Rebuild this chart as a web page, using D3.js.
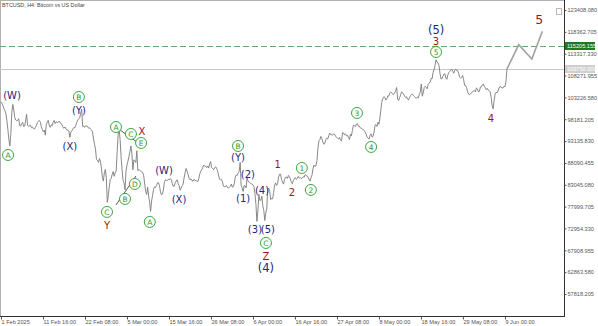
<!DOCTYPE html>
<html>
<head>
<meta charset="utf-8">
<script src="https://cdn.jsdelivr.net/npm/d3@7"></script>
<style>
  body { margin: 0; background: #fff; }
  svg { display: block; font-family: "Liberation Sans", Arial, sans-serif; }
</style>
</head>
<body>
<svg id="chart" width="598" height="326"></svg>
<script>
// BTCUSD closes, sampled every 6 hours from 1 Feb 2025 00:00 (one row per 5 days)
const startTime = Date.UTC(2025, 1, 1);
const stepHours = 6;
const closes = [
  // Feb
  102200, 101800, 101300, 100600, 100200, 99500, 97800, 95800, 93500, 92000, 94800, 99800,
  101600, 100300, 98600, 98000, 97800, 97900, 98300, 96700,
  96600, 97200, 97500, 96500, 96600, 97800, 99300, 96800, 96500, 96700, 96800, 96200,
  96400, 96000, 95900, 96300, 96800, 97400, 97700, 97900,
  97500, 96400, 95800, 95300, 95700, 94500, 96900, 97500, 97900, 96800, 96300, 96900,
  96700, 97500, 97900, 97200, 97600, 97400, 97500, 97700,
  97500, 97100, 96900, 96300, 96100, 96400, 95900, 95700, 95700, 95400, 94000, 95200,
  95500, 95900, 96300, 96200, 96700, 97500, 98000, 98300,
  98500, 99600, 100500, 96500, 96600, 96300, 96700, 96600, 96500, 96100, 96200, 95900,
  95700, 95300, 93600, 92400, 91300, 88900, 88700, 88200,
  89100, 88500, 86900, 84800, 83900, 85800, 86600, 84700, 79000, 80500, 82600, 84300,
  // Mar
  84500, 85500, 86100, 85000, 85800, 86200, 90600, 94500, 96000, 93500, 89500, 86500,
  84100, 83500, 81900, 86200, 87600, 88500, 89600, 90700,
  92000, 90200, 86500, 88800, 88600, 88200, 90900, 86300, 86500, 86400, 86200, 86000,
  85900, 85100, 83200, 81500, 80800, 82500, 80400, 79000,
  76900, 79300, 80600, 82000, 82600, 82400, 82900, 83500, 83500, 82900, 81400, 80700,
  80900, 81800, 83600, 84200, 84100, 84000, 84300, 84200,
  84500, 84200, 83400, 82700, 82700, 83500, 83900, 84200, 83300, 82900, 81800, 82300,
  82800, 83200, 84600, 85800, 86800, 86200, 85500, 84600,
  84200, 84400, 84000, 83900, 84300, 84100, 84000, 83900, 83800, 84500, 85600, 86200,
  86500, 87100, 87600, 87300, 87300, 87000, 87400, 86900,
  87900, 88400, 87000, 86800, 86500, 86900, 87200, 86900, 86300, 85300, 84300, 84200,
  84300, 83700, 82700, 82600, 82600, 82900, 82400, 82300,
  82400, 82700, 83200, 82500,
  // Apr
  82600, 83300, 84800, 85300, 85200, 85800, 86200, 88200, 82800, 82400, 81500, 82900,
  82800, 82300, 84600, 83900, 83700, 83500, 83300, 83200,
  83000, 82700, 81000, 78500, 74600, 77000, 80800, 79400, 79500, 80400, 78200, 77100,
  74800, 76500, 77500, 82000, 82300, 81500, 79600, 79900,
  79800, 81300, 83000, 83500, 82900, 83300, 84800, 85500, 85500, 84300, 83600, 83200,
  84200, 84800, 84800, 84500, 85200, 84900, 84400, 83600,
  83300, 84000, 84400, 84700, 84300, 84500, 85000, 84600, 84700, 84500, 84600, 84900,
  84800, 85400, 85200, 85100, 84800, 84300, 83900, 84700,
  85300, 86800, 87600, 87300, 87400, 88600, 91500, 93200, 93500, 94200, 93700, 92900,
  92400, 92600, 93500, 93800, 93600, 94400, 95000, 94600,
  94600, 94500, 94800, 94700, 94200, 94000, 93800, 93600, 94000, 93300, 93200, 95100,
  95000, 94600, 94800, 94300, 94500, 94000, 93500, 94700,
  // May
  94300, 95600, 96800, 96700, 96500, 97000, 97200, 96600, 96600, 96200, 96100, 95900,
  95800, 95600, 95200, 94700, 94000, 93800, 93600, 94500,
  94800, 94100, 94200, 95200, 96800, 96900, 96500, 97500, 97000, 98500, 100500, 102300,
  103000, 103400, 103200, 102600, 102900, 103600, 103500, 104300,
  104500, 104200, 104000, 103900, 104300, 104800, 105500, 102800, 102500, 103200, 103800, 104500,
  104300, 104000, 103500, 103200, 103400, 102800, 102600, 103200,
  103600, 103900, 104000, 103700, 103400, 103200, 103000, 103300, 103100, 103900, 104500, 106300,
  103500, 104300, 105500, 105800, 105600, 105200, 106200, 106500,
  106800, 107600, 107500, 109000, 109700, 110600, 111900, 111300, 111200, 110600, 108800, 107500,
  107500, 108100, 108600, 108700, 107700, 107400, 108400, 109000,
  109200, 109600, 109700, 109200, 108800, 109500, 109800, 109400, 109400, 108800, 107900, 107700,
  107800, 108300, 107400, 106000, 106000, 105500, 104600, 104000,
  103800, 104100, 104200, 104600,
  // Jun
  104700, 104800, 104500, 105400, 105200, 104500, 104600, 105600, 105600, 106100, 106300, 105800,
  105500, 105000, 105300, 104900, 104800, 104500, 103200, 101300,
  100600, 102500, 104000, 104400, 104300, 104700, 105400, 105800, 105600, 105400, 105400, 105800,
  105700, 106800, 109750
];

// projected path after the last close
const forecastDates = ["2025-06-09T12:00Z", "2025-06-12T12:00Z", "2025-06-15T20:00Z", "2025-06-18T12:00Z"];
const forecastPrices = [109750, 115400, 112100, 118500];

const priceTicks = [123408.080, 118362.705, 113317.330, 108271.955, 103226.580, 98181.205,
  93135.830, 88090.455, 83045.080, 77999.705, 72954.330, 67908.955, 62863.580, 57818.205];

const timeTicks = ["2025-02-01T00:00Z", "2025-02-11T16:00Z", "2025-02-22T08:00Z", "2025-03-05T00:00Z",
  "2025-03-15T16:00Z", "2025-03-26T08:00Z", "2025-04-06T00:00Z", "2025-04-16T16:00Z",
  "2025-04-27T08:00Z", "2025-05-08T00:00Z", "2025-05-18T16:00Z", "2025-05-29T08:00Z", "2025-06-09T00:00Z"];
const timeTickLabels = ["1 Feb 2025", "11 Feb 16:00", "22 Feb 08:00", "5 Mar 00:00", "15 Mar 16:00",
  "26 Mar 08:00", "6 Apr 00:00", "16 Apr 16:00", "27 Apr 08:00", "8 May 00:00", "18 May 16:00",
  "29 May 08:00", "9 Jun 00:00"];

const targetLevel = 115205.155;

// wave labels: time, price, text, style (c = circled, n = navy, r = red, N/R = large)
const waveLabels = [
  ["2025-02-03T19:00Z", 103780, "(W)", "n"],
  ["2025-02-02T19:00Z", 89930, "A", "c"],
  ["2025-02-20T19:00Z", 103320, "B", "c"],
  ["2025-02-20T19:00Z", 100320, "(Y)", "n"],
  ["2025-02-18T12:00Z", 92000, "(X)", "n"],
  ["2025-03-02T05:00Z", 96390, "A", "c"],
  ["2025-03-06T00:00Z", 94780, "C", "c"],
  ["2025-03-08T14:00Z", 92700, "E", "c"],
  ["2025-03-07T00:00Z", 83230, "D", "c"],
  ["2025-03-04T12:00Z", 79770, "B", "c"],
  ["2025-03-08T19:00Z", 95470, "X", "r"],
  ["2025-02-27T22:00Z", 76770, "C", "c"],
  ["2025-02-27T22:00Z", 73770, "Y", "r"],
  ["2025-03-10T19:00Z", 74460, "A", "c"],
  ["2025-03-14T10:00Z", 86460, "(W)", "n"],
  ["2025-03-18T05:00Z", 79770, "(X)", "n"],
  ["2025-04-02T05:00Z", 92000, "B", "c"],
  ["2025-04-02T05:00Z", 89470, "(Y)", "n"],
  ["2025-04-03T12:00Z", 80000, "(1)", "n"],
  ["2025-04-04T17:00Z", 85540, "(2)", "n"],
  ["2025-04-08T07:00Z", 81850, "(4)", "n"],
  ["2025-04-06T12:00Z", 72840, "(3)", "n"],
  ["2025-04-09T19:00Z", 72840, "(5)", "n"],
  ["2025-04-09T07:00Z", 69610, "C", "c"],
  ["2025-04-09T07:00Z", 66610, "Z", "r"],
  ["2025-04-09T07:00Z", 63840, "(4)", "N"],
  ["2025-04-12T07:00Z", 87850, "1", "r"],
  ["2025-04-15T22:00Z", 81390, "2", "r"],
  ["2025-04-18T10:00Z", 86930, "1", "c"],
  ["2025-04-20T17:00Z", 81850, "2", "c"],
  ["2025-05-02T10:00Z", 99630, "3", "c"],
  ["2025-05-06T00:00Z", 91780, "4", "c"],
  ["2025-05-22T12:00Z", 118900, "(5)", "N"],
  ["2025-05-22T12:00Z", 116150, "3", "r"],
  ["2025-05-22T12:00Z", 113710, "5", "c"],
  ["2025-06-05T10:00Z", 98470, "4", "r"],
  ["2025-06-17T17:00Z", 121100, "5", "R"]
];

// triangle boundary lines
const triangleLines = [
  [["2025-03-02T12:00Z", 96160], ["2025-03-07T12:00Z", 92930]],
  [["2025-03-02T05:00Z", 78380], ["2025-03-07T07:00Z", 85080]]
];

const green = "#2a9a2a", navy = "#26267a", red = "#9a1616";

const svg = d3.select("#chart");
const plotRight = 564, plotBottom = 316;

const x = d3.scaleUtc()
  .domain([new Date("2025-02-01T00:00Z"), new Date("2025-06-24T00:00Z")])
  .range([1, plotRight]);
const y = d3.scaleLinear()
  .domain([57818.205, 123408.080])
  .range([294, 10]);

const series = closes.map((c, i) => ({ t: new Date(startTime + i * stepHours * 3600e3), p: c }));
const lastPrice = closes[closes.length - 1];

svg.append("clipPath").attr("id", "plot")
  .append("rect").attr("x", 0).attr("y", 0).attr("width", plotRight).attr("height", plotBottom);

// frame
svg.append("line").attr("x1", 0).attr("x2", plotRight).attr("y1", 0.5).attr("y2", 0.5)
  .attr("stroke", "#b0b0b0");
svg.append("line").attr("x1", 0.5).attr("x2", 0.5).attr("y1", 0).attr("y2", plotBottom)
  .attr("stroke", "#b0b0b0");

const g = svg.append("g").attr("clip-path", "url(#plot)");

// current price line
g.append("line")
  .attr("x1", 0).attr("x2", plotRight)
  .attr("y1", Math.round(y(lastPrice)) + 0.5).attr("y2", Math.round(y(lastPrice)) + 0.5)
  .attr("stroke", "#c8c8c8");

// target level
g.append("line")
  .attr("x1", 0).attr("x2", plotRight)
  .attr("y1", Math.round(y(targetLevel)) + 0.5).attr("y2", Math.round(y(targetLevel)) + 0.5)
  .attr("stroke", "#6aaa6a").attr("stroke-dasharray", "6,3");

const line = d3.line().x(d => x(d.t)).y(d => y(d.p));

g.append("path").datum(series)
  .attr("d", line)
  .attr("fill", "none")
  .attr("stroke", "#7a7a7a")
  .attr("stroke-width", 0.9);

g.append("path")
  .datum(forecastDates.map((d, i) => ({ t: new Date(d), p: forecastPrices[i] })))
  .attr("d", line)
  .attr("fill", "none")
  .attr("stroke", "#a0a0a0")
  .attr("stroke-width", 1.6);

g.selectAll(".tri").data(triangleLines).join("line")
  .attr("x1", d => x(new Date(d[0][0]))).attr("y1", d => y(d[0][1]))
  .attr("x2", d => x(new Date(d[1][0]))).attr("y2", d => y(d[1][1]))
  .attr("stroke", "#3d6b45").attr("stroke-width", 1);

// wave labels
const lab = g.selectAll(".wave").data(waveLabels).join("g")
  .attr("transform", d => `translate(${x(new Date(d[0]))},${y(d[1])})`);

lab.filter(d => d[3] === "c").append("circle")
  .attr("r", 5.5).attr("fill", "#fff").attr("stroke", green).attr("stroke-width", 0.9);

lab.append("text")
  .attr("text-anchor", "middle")
  .attr("dy", "0.36em")
  .attr("font-family", "'DejaVu Sans', sans-serif")
  .attr("font-size", d => ({ c: 7.5, n: 10, r: 10, N: 11.5, R: 12.5 })[d[3]])
  .attr("fill", d => ({ c: green, n: navy, r: red, N: navy, R: red })[d[3]])
  .text(d => d[2]);

// axes lines
svg.append("line").attr("x1", plotRight + 0.5).attr("x2", plotRight + 0.5)
  .attr("y1", 0).attr("y2", plotBottom + 1).attr("stroke", "#333");
svg.append("line").attr("x1", 0).attr("x2", plotRight + 1)
  .attr("y1", plotBottom + 0.5).attr("y2", plotBottom + 0.5).attr("stroke", "#333");

const yAxis = svg.append("g")
  .attr("transform", `translate(${plotRight + 0.5},0)`)
  .call(d3.axisRight(y).tickValues(priceTicks).tickSize(2).tickPadding(1)
    .tickFormat(d3.format(".3f")));
yAxis.select(".domain").remove();
yAxis.selectAll("text").attr("font-size", 5.6).attr("fill", "#555");
yAxis.selectAll("line").attr("stroke", "#555");

const xAxis = svg.append("g")
  .attr("transform", `translate(0,${plotBottom + 0.5})`)
  .call(d3.axisBottom(x).tickValues(timeTicks.map(d => new Date(d))).tickSize(3).tickPadding(1)
    .tickFormat((d, i) => timeTickLabels[i]));
xAxis.select(".domain").remove();
xAxis.selectAll("text").attr("font-size", 5.6).attr("fill", "#555").attr("text-anchor", "start");
xAxis.selectAll("line").attr("stroke", "#555");

// price boxes on the right scale
function priceBox(value, fill, color) {
  const yy = Math.round(y(value));
  svg.append("rect").attr("x", plotRight + 1).attr("y", yy - 4).attr("width", 30).attr("height", 8)
    .attr("fill", fill);
  svg.append("text").attr("x", plotRight + 3).attr("y", yy).attr("dy", "0.35em")
    .attr("font-size", 5.6).attr("fill", color).text(d3.format(".3f")(value));
}
priceBox(targetLevel, "#1e7a1e", "#fff");
priceBox(lastPrice, "#cfcfcf", "#fff");

// title and corner icon
svg.append("text").attr("x", 2).attr("y", 6.5).attr("font-size", 5.4).attr("fill", "#444")
  .text("BTCUSD, H4:  Bitcoin vs US Dollar");
svg.append("rect").attr("x", 556.5).attr("y", 8.5).attr("width", 5).attr("height", 6)
  .attr("fill", "none").attr("stroke", "#bbb");
</script>
</body>
</html>
